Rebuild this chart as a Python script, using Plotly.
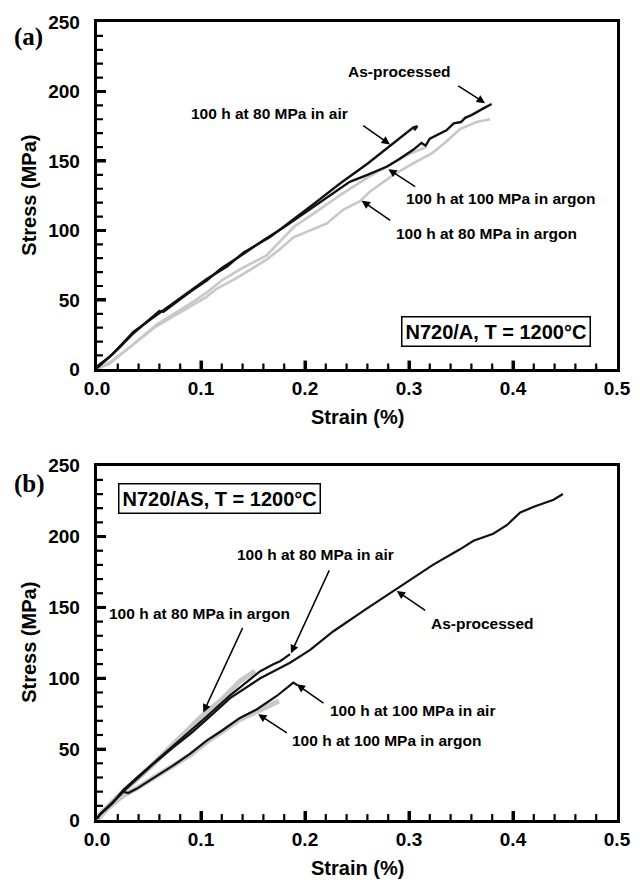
import plotly.graph_objects as go

# ---------------- Panel (a): N720/A ----------------
a_asproc_strain = [0.0, 0.003, 0.012, 0.022, 0.035, 0.048, 0.060, 0.064, 0.072, 0.090, 0.1055, 0.120, 0.1407, 0.160, 0.179, 0.200, 0.221, 0.243, 0.260, 0.279, 0.290, 0.304, 0.312, 0.316, 0.320, 0.330, 0.336, 0.343, 0.350, 0.354, 0.360, 0.372, 0.3795]
a_asproc_stress = [2, 4, 9, 16, 26, 34, 42, 41.5, 46, 56, 64, 73, 83, 93, 102, 113, 124, 135, 140, 146, 151, 158, 163, 161, 166, 170, 172, 177, 178, 181, 183, 188, 191]

a_air80_strain = [0.0, 0.003, 0.015, 0.035, 0.050, 0.068, 0.085, 0.1055, 0.125, 0.1407, 0.166, 0.179, 0.189, 0.210, 0.234, 0.260, 0.282, 0.298, 0.304, 0.308, 0.305]
a_air80_stress = [1, 3, 11, 27, 35, 45, 54, 65, 74, 84, 95, 102, 108, 120, 134, 148, 161, 170, 174, 175, 172]

a_arg100_strain = [0.0, 0.012, 0.030, 0.057, 0.089, 0.105, 0.120, 0.140, 0.163, 0.175, 0.190, 0.210, 0.235, 0.260, 0.285, 0.300, 0.317]
a_arg100_stress = [0, 5, 15, 32, 47, 55, 64, 73, 82, 91, 103, 113, 126, 138, 149, 155, 160]

a_arg80_strain = [0.0, 0.012, 0.030, 0.057, 0.089, 0.105, 0.115, 0.135, 0.163, 0.175, 0.189, 0.205, 0.221, 0.237, 0.253, 0.2625, 0.275, 0.285, 0.301, 0.323, 0.336, 0.349, 0.365, 0.378]
a_arg80_stress = [0, 4, 15, 31, 45, 52, 58, 66, 79, 86, 95, 100, 105, 115, 121, 128, 135, 140, 147, 156, 164, 173, 178, 180]

# ---------------- Panel (b): N720/AS ----------------
b_asproc_strain = [0.0, 0.003, 0.015, 0.025, 0.040, 0.055, 0.073, 0.090, 0.1055, 0.128, 0.157, 0.1856, 0.205, 0.227, 0.259, 0.288, 0.323, 0.349, 0.362, 0.381, 0.394, 0.407, 0.420, 0.439, 0.448]
b_asproc_stress = [1, 4, 12, 20, 30, 40, 51, 61, 71, 86, 100, 111, 120, 133, 149, 163, 180, 191, 197, 202, 208, 217, 221, 226, 230]

b_air80_strain = [0.0, 0.003, 0.015, 0.025, 0.040, 0.073, 0.1055, 0.128, 0.140, 0.157, 0.170, 0.176, 0.180, 0.1856]
b_air80_stress = [1, 4, 12, 21, 31, 52, 73, 88, 95, 105, 110, 112, 114, 117]

b_air100_strain = [0.0, 0.003, 0.0253, 0.030, 0.038, 0.055, 0.0734, 0.090, 0.1055, 0.120, 0.1375, 0.1535, 0.1728, 0.1888, 0.193]
b_air100_stress = [1, 4, 20, 19, 22, 30, 38.5, 47, 56, 63, 72, 78, 87.5, 97, 95]

b_arg80_strain = [0.0, 0.003, 0.022, 0.051, 0.0766, 0.099, 0.1215, 0.1375, 0.152]
b_arg80_stress = [0, 4, 18, 37, 56, 72, 86, 98, 105]

b_arg100_strain = [0.0, 0.010, 0.025, 0.040, 0.055, 0.0734, 0.090, 0.1055, 0.120, 0.1375, 0.155, 0.175]
b_arg100_stress = [0, 8, 17, 23, 30, 38, 46, 55, 62, 71, 77, 84]

x_ticks = [0.0, 0.1, 0.2, 0.3, 0.4, 0.5]
y_ticks = [0, 50, 100, 150, 200, 250]
x_minor_ticks = [round(0.02 * i, 2) for i in range(1, 25) if i % 5 != 0]
y_minor_ticks = [10 * i for i in range(1, 25) if i % 5 != 0]

BLACK = "#111111"
GRAY = "#c8c8c8"
FONT = "Liberation Sans"

fig = go.Figure()

def add_line(x, y, xa, ya, color, width):
    fig.add_trace(go.Scatter(x=x, y=y, mode="lines", xaxis=xa, yaxis=ya,
                             line=dict(color=color, width=width, shape="linear"),
                             showlegend=False, hoverinfo="skip"))

# panel a (gray first, black on top)
add_line(a_arg80_strain, a_arg80_stress, "x", "y", GRAY, 2.6)
add_line(a_arg100_strain, a_arg100_stress, "x", "y", GRAY, 2.6)
add_line(a_asproc_strain, a_asproc_stress, "x", "y", BLACK, 2.4)
add_line(a_air80_strain, a_air80_stress, "x", "y", BLACK, 2.4)

# panel b
add_line(b_arg80_strain, b_arg80_stress, "x2", "y2", GRAY, 5)
add_line(b_arg100_strain, b_arg100_stress, "x2", "y2", GRAY, 5)
add_line(b_asproc_strain, b_asproc_stress, "x2", "y2", BLACK, 2.2)
add_line(b_air80_strain, b_air80_stress, "x2", "y2", BLACK, 2.2)
add_line(b_air100_strain, b_air100_stress, "x2", "y2", BLACK, 2.2)

# inward tick marks, one short segment per tick value
X_PX = 0.5 / 520.0      # strain per pixel
Y_PX_A = 250 / 350.0    # MPa per pixel, panel a
Y_PX_B = 250 / 357.0    # MPa per pixel, panel b

def tick_marks(xa, ya, ypx, vals, axis, length, width):
    for v in vals:
        if axis == "x":
            xs, ys = [v, v], [0, length * ypx]
        else:
            xs, ys = [0, length * X_PX], [v, v]
        fig.add_trace(go.Scatter(x=xs, y=ys, mode="lines", xaxis=xa, yaxis=ya,
                                 line=dict(color="black", width=width),
                                 showlegend=False, hoverinfo="skip"))

for xa, ya, ypx in (("x", "y", Y_PX_A), ("x2", "y2", Y_PX_B)):
    tick_marks(xa, ya, ypx, x_ticks[1:-1], "x", 9, 3)
    tick_marks(xa, ya, ypx, x_minor_ticks, "x", 6, 2.2)
    tick_marks(xa, ya, ypx, y_ticks[1:-1], "y", 9, 3)
    tick_marks(xa, ya, ypx, y_minor_ticks, "y", 6, 2.2)

tickfont = dict(family=FONT, size=19, color="black")

def xaxis(anchor):
    return dict(anchor=anchor, domain=[0, 1], range=[0, 0.5], tickmode="array",
                tickvals=x_ticks, ticktext=[f"<b>{v:.1f}</b>" for v in x_ticks],
                ticks="inside", ticklen=9, tickwidth=3, tickcolor="black",
                showline=True, linewidth=2.5, linecolor="black", mirror=True,
                showgrid=False, zeroline=False, tickfont=tickfont)

def yaxis(anchor, domain):
    return dict(anchor=anchor, domain=domain, range=[0, 250], tickmode="array",
                tickvals=y_ticks, ticktext=[f"<b>{v}</b>&nbsp;&nbsp;" for v in y_ticks],
                ticks="inside", ticklen=9, tickwidth=3, tickcolor="black",
                showline=True, linewidth=2.5, linecolor="black", mirror=True,
                showgrid=False, zeroline=False, tickfont=tickfont)

annotations = []

def text(xr, yr, x, y, s, size=15.5):
    annotations.append(dict(xref=xr, yref=yr, x=x, y=y, text=f"<b>{s}</b>", showarrow=False,
                            xanchor="center", yanchor="middle",
                            font=dict(family=FONT, size=size, color="black")))

def arrow(xr, yr, hx, hy, tx, ty):
    annotations.append(dict(xref=xr, yref=yr, x=hx, y=hy, axref=xr, ayref=yr,
                            ax=tx, ay=ty, text="", showarrow=True, arrowhead=2,
                            arrowsize=1.1, arrowwidth=1.5, arrowcolor="black",
                            standoff=0, startstandoff=0))

def boxed(xr, yr, x, y, s):
    annotations.append(dict(xref=xr, yref=yr, x=x, y=y, text=f"<b>{s}</b>",
                            showarrow=False, xanchor="center", yanchor="middle",
                            bordercolor="black", borderwidth=1.5, borderpad=3, bgcolor="white",
                            font=dict(family=FONT, size=20, color="black")))

# panel a labels
text("x", "y", 0.2913, 214.3, "As-processed")
arrow("x", "y", 0.3731, 191.6, 0.3459, 204.8)
text("x", "y", 0.1654, 184.3, "100 h at 80 MPa in air")
arrow("x", "y", 0.2817, 161.9, 0.2545, 176.2)
text("x", "y", 0.3885, 122.9, "100 h at 100 MPa in argon")
arrow("x", "y", 0.2801, 144.1, 0.3074, 130.9)
text("x", "y", 0.3745, 97.9, "100 h at 80 MPa in argon")
arrow("x", "y", 0.2545, 121.4, 0.2834, 106.4)
boxed("x", "y", 0.3834, 27.1, "N720/A, T = 1200°C")

# panel b labels
boxed("x2", "y2", 0.1178, 226.7, "N720/AS, T = 1200°C")
text("x2", "y2", 0.2101, 187.0, "100 h at 80 MPa in air")
arrow("x2", "y2", 0.1865, 117.6, 0.2240, 177.2)
text("x2", "y2", 0.0990, 145.9, "100 h at 80 MPa in argon")
arrow("x2", "y2", 0.1022, 75.8, 0.1407, 136.6)
text("x2", "y2", 0.3707, 138.9, "As-processed")
arrow("x2", "y2", 0.2882, 161.6, 0.3170, 147.1)
text("x2", "y2", 0.3034, 77.0, "100 h at 100 MPa in air")
arrow("x2", "y2", 0.1920, 95.7, 0.2192, 81.7)
text("x2", "y2", 0.2793, 56.0, "100 h at 100 MPa in argon")
arrow("x2", "y2", 0.1550, 74.7, 0.1840, 60.7)

# axis titles
for xd, yd in (("x domain", "y domain"), ("x2 domain", "y2 domain")):
    annotations.append(dict(xref=xd, yref=yd, x=0.5, y=0, yshift=-48, text="<b>Strain (%)</b>",
                            showarrow=False, xanchor="center", yanchor="middle",
                            font=dict(family=FONT, size=20, color="black")))
    annotations.append(dict(xref=xd, yref=yd, x=0, y=0.5, xshift=-68, text="<b>Stress (MPa)</b>",
                            textangle=-90, showarrow=False, xanchor="center", yanchor="middle",
                            font=dict(family=FONT, size=20, color="black")))

# panel letters
annotations.append(dict(xref="x domain", yref="y domain", x=0, y=1, xshift=-69, yshift=-15,
                        text="<b>(a)</b>", showarrow=False, xanchor="center", yanchor="middle",
                        font=dict(family="Liberation Serif", size=25, color="black")))
annotations.append(dict(xref="x2 domain", yref="y2 domain", x=0, y=1, xshift=-68, yshift=-18,
                        text="<b>(b)</b>", showarrow=False, xanchor="center", yanchor="middle",
                        font=dict(family="Liberation Serif", size=25, color="black")))

dom_a = [0.5647, 1.0]
dom_b = [0.0, 0.444]

fig.update_layout(
    width=644, height=883,
    margin=dict(l=97, r=27, t=16, b=63),
    paper_bgcolor="white", plot_bgcolor="white",
    xaxis=xaxis("y"), yaxis=yaxis("x", dom_a),
    xaxis2=xaxis("y2"), yaxis2=yaxis("x2", dom_b),
    annotations=annotations,
    showlegend=False,
)

fig.write_html("out.html")
